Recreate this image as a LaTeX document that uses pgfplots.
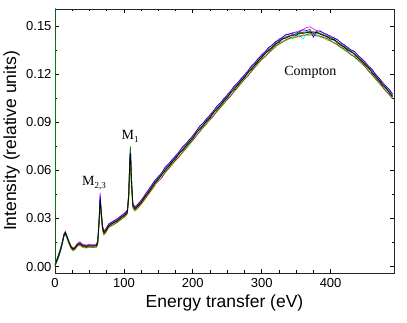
\documentclass[border=0pt]{standalone}
\usepackage{fontspec}
\setmainfont{Liberation Sans}
\newfontfamily\serif{Liberation Serif}
\usepackage{pgfplots}
\usepackage{pgfplotstable}
\pgfplotsset{compat=1.18}

\definecolor{cBlack}{RGB}{0,0,0}
\definecolor{cRed}{RGB}{255,0,0}
\definecolor{cBlue}{RGB}{0,0,255}
\definecolor{cMag}{RGB}{255,0,255}
\definecolor{cCyan}{RGB}{0,255,255}
\definecolor{cLime}{RGB}{0,255,0}
\definecolor{cOlive}{RGB}{128,128,0}
\definecolor{cDkGreen}{RGB}{0,128,0}

\pgfplotstableread{
x y1 y2 y3 y4 y5 y6 y7 y8
0 0.0010 0.0014 0.0006 0.0018 0.0012 0.0004 0.0009 0.0015
2 0.0030 0.0036 0.0025 0.0040 0.0028 0.0022 0.0033 0.0038
5 0.0065 0.0072 0.0058 0.0070 0.0061 0.0055 0.0068 0.0074
8 0.0104 0.0110 0.0098 0.0112 0.0101 0.0095 0.0108 0.0114
11 0.0156 0.0160 0.0149 0.0163 0.0152 0.0146 0.0158 0.0161
13 0.0196 0.0199 0.0190 0.0203 0.0193 0.0186 0.0197 0.0201
15 0.0211 0.0214 0.0205 0.0220 0.0208 0.0198 0.0212 0.0216
17 0.0191 0.0186 0.0188 0.0197 0.0184 0.0178 0.0193 0.0195
20 0.0155 0.0150 0.0152 0.0162 0.0148 0.0144 0.0158 0.0157
23 0.0126 0.0117 0.0122 0.0131 0.0120 0.0113 0.0128 0.0127
26 0.0110 0.0102 0.0108 0.0117 0.0106 0.0098 0.0112 0.0113
29 0.0116 0.0108 0.0114 0.0123 0.0111 0.0105 0.0119 0.0117
32 0.0134 0.0128 0.0138 0.0143 0.0131 0.0124 0.0137 0.0136
36 0.0144 0.0137 0.0147 0.0155 0.0141 0.0133 0.0148 0.0146
40 0.0131 0.0124 0.0134 0.0140 0.0127 0.0119 0.0133 0.0129
45 0.0126 0.0119 0.0129 0.0135 0.0123 0.0115 0.0127 0.0124
50 0.0129 0.0123 0.0135 0.0139 0.0126 0.0120 0.0132 0.0131
55 0.0127 0.0120 0.0131 0.0138 0.0124 0.0117 0.0130 0.0129
60 0.0131 0.0123 0.0134 0.0140 0.0127 0.0119 0.0133 0.0132
62 0.0151 0.0142 0.0156 0.0162 0.0148 0.0137 0.0152 0.0154
64 0.0282 0.0265 0.0295 0.0300 0.0290 0.0260 0.0275 0.0285
65.5 0.0420 0.0385 0.0440 0.0460 0.0450 0.0395 0.0370 0.0410
67 0.0342 0.0320 0.0355 0.0360 0.0350 0.0315 0.0330 0.0338
69 0.0242 0.0230 0.0250 0.0255 0.0245 0.0225 0.0238 0.0244
71 0.0211 0.0200 0.0218 0.0223 0.0214 0.0197 0.0208 0.0213
74 0.0226 0.0216 0.0234 0.0238 0.0222 0.0212 0.0229 0.0228
78 0.0254 0.0246 0.0264 0.0267 0.0251 0.0243 0.0258 0.0257
84 0.0271 0.0261 0.0280 0.0283 0.0267 0.0257 0.0274 0.0272
90 0.0284 0.0276 0.0295 0.0298 0.0282 0.0273 0.0289 0.0287
96 0.0306 0.0296 0.0315 0.0318 0.0301 0.0292 0.0309 0.0307
102 0.0324 0.0315 0.0335 0.0338 0.0321 0.0312 0.0328 0.0326
105 0.0341 0.0331 0.0351 0.0354 0.0337 0.0327 0.0344 0.0342
107 0.0442 0.0420 0.0460 0.0455 0.0435 0.0410 0.0445 0.0450
108.5 0.0645 0.0610 0.0670 0.0660 0.0630 0.0580 0.0640 0.0675
109.5 0.0705 0.0665 0.0740 0.0725 0.0685 0.0625 0.0695 0.0748
111 0.0525 0.0500 0.0550 0.0540 0.0510 0.0480 0.0515 0.0560
113 0.0382 0.0370 0.0392 0.0395 0.0375 0.0365 0.0384 0.0388
116 0.0361 0.0351 0.0370 0.0373 0.0355 0.0346 0.0364 0.0363
120 0.0376 0.0366 0.0386 0.0389 0.0371 0.0362 0.0380 0.0378
125 0.0399 0.0390 0.0411 0.0414 0.0396 0.0387 0.0405 0.0402
130 0.0432 0.0420 0.0442 0.0445 0.0425 0.0415 0.0436 0.0431
135 0.0459 0.0449 0.0472 0.0476 0.0455 0.0445 0.0466 0.0462
140 0.0490 0.0477 0.0504 0.0507 0.0483 0.0475 0.0496 0.0493
145 0.0524 0.0512 0.0538 0.0533 0.0509 0.0502 0.0528 0.0519
150 0.0542 0.0531 0.0556 0.0564 0.0541 0.0565 0.0548 0.0552
155 0.0576 0.0553 0.0585 0.0584 0.0560 0.0560 0.0580 0.0570
160 0.0599 0.0589 0.0621 0.0618 0.0586 0.0583 0.0604 0.0608
165 0.0625 0.0612 0.0639 0.0642 0.0618 0.0610 0.0631 0.0628
170 0.0654 0.0642 0.0668 0.0663 0.0639 0.0632 0.0658 0.0649
175 0.0672 0.0661 0.0686 0.0694 0.0671 0.0662 0.0678 0.0682
180 0.0706 0.0683 0.0715 0.0714 0.0690 0.0690 0.0710 0.0700
185 0.0724 0.0714 0.0746 0.0743 0.0711 0.0708 0.0729 0.0733
190 0.0750 0.0737 0.0764 0.0767 0.0743 0.0735 0.0756 0.0753
195 0.0779 0.0767 0.0793 0.0788 0.0764 0.0757 0.0783 0.0774
200 0.0797 0.0786 0.0811 0.0819 0.0796 0.0787 0.0803 0.0807
205 0.0836 0.0813 0.0845 0.0844 0.0820 0.0820 0.0840 0.0830
210 0.0854 0.0844 0.0876 0.0873 0.0841 0.0838 0.0859 0.0863
215 0.0880 0.0867 0.0894 0.0897 0.0873 0.0865 0.0886 0.0883
220 0.0909 0.0897 0.0923 0.0918 0.0894 0.0887 0.0913 0.0904
225 0.0927 0.0916 0.0941 0.0949 0.0926 0.0917 0.0933 0.0937
230 0.0961 0.0938 0.0970 0.0969 0.0945 0.0945 0.0965 0.0955
235 0.0979 0.0969 0.1001 0.0998 0.0966 0.0963 0.0984 0.0988
240 0.1005 0.0992 0.1019 0.1022 0.0998 0.0990 0.1011 0.1008
245 0.1034 0.1022 0.1048 0.1043 0.1019 0.1012 0.1038 0.1029
250 0.1052 0.1041 0.1066 0.1074 0.1051 0.1042 0.1058 0.1062
255 0.1086 0.1063 0.1095 0.1094 0.1070 0.1070 0.1090 0.1080
260 0.1104 0.1094 0.1126 0.1123 0.1091 0.1088 0.1109 0.1113
265 0.1130 0.1117 0.1144 0.1147 0.1123 0.1115 0.1136 0.1133
270 0.1159 0.1147 0.1173 0.1168 0.1144 0.1137 0.1163 0.1154
275 0.1177 0.1166 0.1191 0.1199 0.1176 0.1167 0.1183 0.1187
280 0.1211 0.1188 0.1220 0.1219 0.1195 0.1195 0.1215 0.1205
285 0.1229 0.1219 0.1251 0.1248 0.1216 0.1213 0.1234 0.1238
290 0.1255 0.1242 0.1269 0.1272 0.1248 0.1240 0.1261 0.1258
295 0.1284 0.1272 0.1298 0.1293 0.1269 0.1262 0.1288 0.1279
300 0.1302 0.1291 0.1316 0.1324 0.1301 0.1292 0.1308 0.1312
305 0.1331 0.1308 0.1340 0.1339 0.1315 0.1315 0.1335 0.1325
310 0.1344 0.1334 0.1366 0.1363 0.1331 0.1328 0.1349 0.1353
315 0.1365 0.1352 0.1379 0.1382 0.1358 0.1350 0.1371 0.1368
320 0.1389 0.1377 0.1403 0.1398 0.1374 0.1367 0.1393 0.1384
325 0.1397 0.1386 0.1411 0.1419 0.1396 0.1387 0.1403 0.1407
330 0.1421 0.1398 0.1430 0.1429 0.1405 0.1405 0.1425 0.1415
335 0.1424 0.1414 0.1446 0.1443 0.1411 0.1408 0.1429 0.1433
340 0.1435 0.1422 0.1449 0.1452 0.1428 0.1420 0.1441 0.1438
345 0.1444 0.1432 0.1458 0.1453 0.1429 0.1422 0.1448 0.1439
350 0.1442 0.1431 0.1456 0.1464 0.1441 0.1432 0.1448 0.1452
355 0.1456 0.1433 0.1465 0.1470 0.1440 0.1440 0.1460 0.1450
360 0.1454 0.1444 0.1476 0.1478 0.1420 0.1438 0.1459 0.1463
365 0.1458 0.1445 0.1472 0.1490 0.1451 0.1443 0.1464 0.1461
370 0.1464 0.1452 0.1478 0.1495 0.1449 0.1442 0.1468 0.1459
375 0.1455 0.1444 0.1430 0.1482 0.1454 0.1445 0.1461 0.1465
380 0.1461 0.1438 0.1470 0.1469 0.1445 0.1445 0.1465 0.1455
385 0.1447 0.1437 0.1469 0.1466 0.1434 0.1431 0.1452 0.1456
390 0.1440 0.1427 0.1454 0.1457 0.1433 0.1425 0.1446 0.1443
395 0.1434 0.1422 0.1448 0.1443 0.1419 0.1412 0.1438 0.1429
400 0.1417 0.1406 0.1431 0.1439 0.1416 0.1407 0.1423 0.1427
405 0.1416 0.1393 0.1425 0.1424 0.1400 0.1430 0.1420 0.1410
410 0.1394 0.1384 0.1416 0.1413 0.1381 0.1378 0.1399 0.1403
415 0.1380 0.1367 0.1394 0.1397 0.1373 0.1365 0.1386 0.1383
420 0.1369 0.1357 0.1383 0.1378 0.1354 0.1347 0.1373 0.1364
425 0.1347 0.1336 0.1361 0.1369 0.1346 0.1337 0.1353 0.1357
430 0.1341 0.1318 0.1350 0.1349 0.1325 0.1325 0.1345 0.1335
435 0.1319 0.1309 0.1341 0.1338 0.1306 0.1303 0.1324 0.1328
440 0.1300 0.1287 0.1314 0.1317 0.1293 0.1285 0.1306 0.1303
445 0.1284 0.1272 0.1298 0.1293 0.1269 0.1262 0.1288 0.1279
450 0.1257 0.1246 0.1271 0.1279 0.1256 0.1247 0.1263 0.1267
455 0.1241 0.1218 0.1250 0.1249 0.1225 0.1225 0.1245 0.1235
460 0.1209 0.1199 0.1231 0.1228 0.1196 0.1193 0.1214 0.1218
465 0.1185 0.1172 0.1199 0.1202 0.1178 0.1170 0.1191 0.1188
470 0.1164 0.1152 0.1178 0.1173 0.1149 0.1142 0.1168 0.1159
475 0.1132 0.1121 0.1146 0.1154 0.1131 0.1122 0.1138 0.1142
480 0.1116 0.1093 0.1125 0.1124 0.1100 0.1100 0.1120 0.1110
485 0.1084 0.1074 0.1106 0.1103 0.1071 0.1068 0.1089 0.1093
490 0.1060 0.1047 0.1074 0.1077 0.1053 0.1045 0.1066 0.1063
}\spectra

\begin{document}
\begin{tikzpicture}
\begin{axis}[
  name=ax,
  scale only axis, width=339pt, height=264pt,
  xmin=0, xmax=492, ymin=-0.004, ymax=0.1606,
  xtick={0,100,200,300,400}, minor x tick num=3,
  ytick={0,0.03,0.06,0.09,0.12,0.15}, minor y tick num=1,
  tick align=inside, major tick length=4pt, minor tick length=2.5pt,
  tick style={black, line width=0.8pt},
  axis line style={line width=0.9pt, black!85},
  /pgf/number format/assume math mode=true,
  ticklabel style={font=\fontsize{13}{13}\selectfont},
  xticklabel style={yshift=-2pt},
  yticklabel style={/pgf/number format/fixed, /pgf/number format/fixed zerofill, /pgf/number format/precision=2},
  scaled y ticks=false,
  xlabel={Energy transfer (eV)}, ylabel={Intensity (relative units)},
  label style={font=\fontsize{17.5}{17.5}\selectfont},
  xlabel style={at={(axis description cs:0.5,-0.1136)}, anchor=center},
  ylabel style={at={(axis description cs:-0.128,0.5)}, anchor=center},
  every axis plot/.append style={line width=0.65pt, mark=none},
]
\addplot[cLime] table[x=x,y=y6]{\spectra};
\addplot[cCyan] table[x=x,y=y5]{\spectra};
\addplot[cMag] table[x=x,y=y4]{\spectra};
\addplot[cBlue] table[x=x,y=y3]{\spectra};
\addplot[cRed] table[x=x,y=y2]{\spectra};
\addplot[cOlive] table[x=x,y=y7]{\spectra};
\addplot[cDkGreen] table[x=x,y=y8]{\spectra};
\addplot[cBlack] table[x=x,y=y1]{\spectra};
\addplot[cDkGreen] coordinates {(0.5,0.2) (0.9,0.0012)};
\node[font=\serif\fontsize{14}{14}\selectfont] at (axis cs:370.6,0.1213) {Compton};
\node[font=\serif\fontsize{14}{14}\selectfont] at (axis cs:56.7,0.0523) {M\raisebox{-0.45ex}{\fontsize{9}{9}\selectfont 2,3}};
\node[font=\serif\fontsize{14}{14}\selectfont] at (axis cs:109,0.0809) {M\raisebox{-0.45ex}{\fontsize{9}{9}\selectfont 1}};
\end{axis}
\path ([shift={(-55pt,-50pt)}]ax.south west) rectangle ([shift={(13pt,9pt)}]ax.north east);
\end{tikzpicture}
\end{document}
